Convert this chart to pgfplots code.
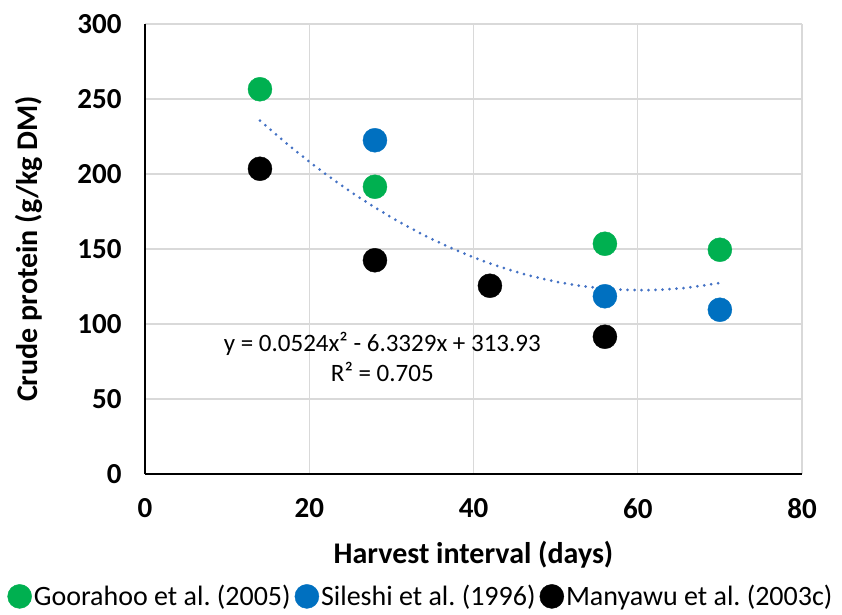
\documentclass[border=0pt]{standalone}
\usepackage{pgfplots}
\pgfplotsset{compat=1.18}
\usepackage{fontspec}
\setmainfont{Carlito}
\frenchspacing
\definecolor{cgreen}{HTML}{00B050}
\definecolor{cblue}{HTML}{0070C0}
\definecolor{ctrend}{HTML}{4472C4}
\definecolor{cgrid}{HTML}{D9D9D9}
\begin{document}
\begin{tikzpicture}
\begin{axis}[
    name=ax,
    scale only axis,
    width=657pt, height=450pt,
    xmin=0, xmax=80, ymin=0, ymax=300,
    xtick={0,20,40,60,80},
    ytick={0,50,100,150,200,250,300},
    major tick length=0pt,
    grid=major,
    grid style={cgrid, line width=1.2pt},
    axis x line*=bottom, axis y line*=left,
    axis line style={black, line width=1.5pt, -},
    /pgf/number format/assume math mode=true,
    ticklabel style={font=\fontsize{29}{34}\selectfont\bfseries},
    xticklabel style={yshift=-21pt},
    yticklabel style={xshift=-20pt},
    xlabel={Harvest interval (days)},
    ylabel={Crude protein (g/kg DM)},
    label style={font=\fontsize{30}{36}\selectfont\bfseries},
    xlabel style={yshift=-16pt},
    ylabel style={yshift=28pt},
    legend columns=3,
    legend style={at={(0.42,-0.272)}, anchor=center, draw=none,
        font=\fontsize{28}{33}\selectfont, inner sep=0pt,
        /tikz/every even column/.append style={column sep=2pt}},
    legend image code/.code={\fill[#1] (0pt,0pt) circle (12pt);},
]
\addplot[only marks, mark=*, mark size=12pt, color=cgreen]
    coordinates {(14,256.5) (28,191.5) (56,153.5) (70,149.5)};
\addlegendentry{Goorahoo et al. (2005)}
\addplot[only marks, mark=*, mark size=12pt, color=cblue]
    coordinates {(28,222.5) (56,118.5) (70,109.5)};
\addlegendentry{Sileshi et al. (1996)}
\addplot[only marks, mark=*, mark size=12pt, color=black]
    coordinates {(14,203.5) (28,142.5) (42,125.5) (56,91.5)};
\addlegendentry{Manyawu et al. (2003c)}
% polynomial trend line, values computed from the printed equation
\addplot[forget plot, smooth, color=ctrend, line width=3pt, line cap=round,
    dash pattern=on 0pt off 7pt]
    coordinates {
    (14,235.54) (18,216.92) (22,199.97) (26,184.69) (30,171.10)
    (34,159.18) (38,148.95) (42,140.38) (46,133.50) (50,128.28)
    (54,124.75) (58,122.89) (62,122.72) (66,124.21) (70,127.39)};
\node[font=\fontsize{25}{30}\selectfont, align=center] at (axis cs:28.9,78)
    {y = 0.0524x² - 6.3329x + 313.93\\R² = 0.705};
\end{axis}
\path[use as bounding box] ([shift={(-145pt,-140pt)}]ax.south west)
    rectangle ([shift={(40pt,24pt)}]ax.north east);
\end{tikzpicture}
\end{document}
